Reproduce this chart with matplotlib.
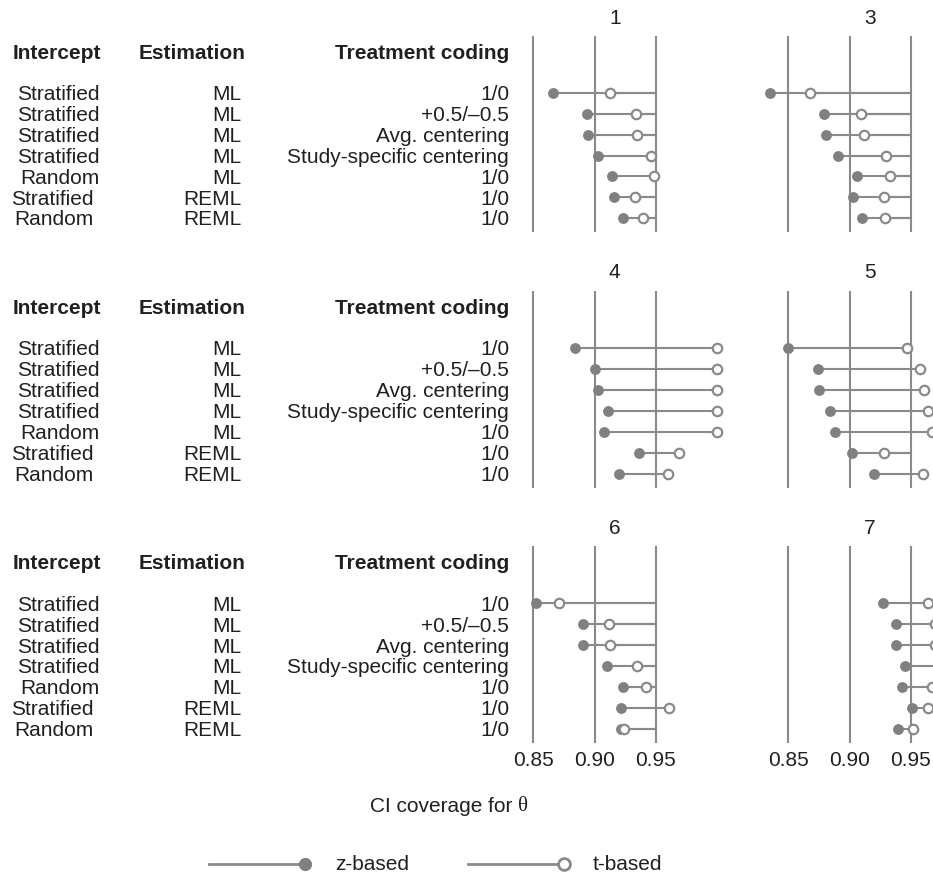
# Dot-and-line chart of CI coverage (z-based vs t-based) for several model variants.
import numpy as np
import matplotlib
matplotlib.use('Agg')
import matplotlib.pyplot as plt
from matplotlib.lines import Line2D

# DATA.

# Model variants (one row each, same in every panel).
intercept = ['Stratified', 'Stratified', 'Stratified', 'Stratified', 'Random', 'Stratified', 'Random']
estimation = ['ML', 'ML', 'ML', 'ML', 'ML', 'REML', 'REML']
coding = ['1/0', '+0.5/\u20130.5', 'Avg. centering', 'Study-specific centering', '1/0', '1/0', '1/0']

# Panel (scenario) labels, two per row of the figure.
panel_labels = ['1', '3', '4', '5', '6', '7']

# CI coverage for theta, z-based intervals.
z_cov = {
    '1': [0.866, 0.894, 0.895, 0.903, 0.914, 0.916, 0.923],
    '3': [0.835, 0.879, 0.881, 0.891, 0.906, 0.903, 0.910],
    '4': [0.884, 0.900, 0.903, 0.911, 0.908, 0.936, 0.920],
    '5': [0.850, 0.874, 0.875, 0.884, 0.888, 0.902, 0.920],
    '6': [0.852, 0.891, 0.891, 0.910, 0.923, 0.922, 0.922],
    '7': [0.927, 0.938, 0.938, 0.945, 0.943, 0.951, 0.940],
}

# CI coverage for theta, t-based intervals.
t_cov = {
    '1': [0.913, 0.934, 0.935, 0.946, 0.949, 0.933, 0.940],
    '3': [0.868, 0.909, 0.912, 0.930, 0.933, 0.928, 0.929],
    '4': [1.000, 1.000, 1.000, 1.000, 1.000, 0.969, 0.960],
    '5': [0.947, 0.958, 0.961, 0.964, 0.967, 0.928, 0.960],
    '6': [0.871, 0.912, 0.913, 0.935, 0.942, 0.961, 0.924],
    '7': [0.964, 0.970, 0.970, 0.976, 0.967, 0.964, 0.952],
}

nominal = 0.95
x_ticks = [0.85, 0.90, 0.95]

# STYLE.

plt.rcParams['font.family'] = ['Liberation Sans', 'DejaVu Sans']
text_color = '#231f20'
grey = '#8a8a8e'
dot_grey = '#808084'
fs = 15

W, H = 933, 877
fig = plt.figure(figsize = (W / 100, H / 100), dpi = 100)

# Panel geometry in pixels (top, bottom) for each of the three rows.
row_px = [(36, 232), (290.7, 488), (546, 743)]
col_left_px = [512.5, 767.5]
panel_w_px = 204.4
ylims = (6.67, -2.74)
xlims = (0.833, 1.0)

rows = np.arange(len(intercept))

for r, (top, bot) in enumerate(row_px):
    ax_bottom = 1 - bot / H
    ax_height = (bot - top) / H

    # Text table to the left, sharing the row scale of the panels.
    tax = fig.add_axes([0, ax_bottom, 1, ax_height])
    tax.set_xlim(0, W)
    tax.set_ylim(*ylims)
    tax.axis('off')

    tax.text(13, -1.63, 'Intercept', fontsize = fs, fontweight = 'bold',
             color = text_color, ha = 'left', va = 'baseline')
    tax.text(139, -1.63, 'Estimation', fontsize = fs, fontweight = 'bold',
             color = text_color, ha = 'left', va = 'baseline')
    tax.text(509, -1.63, 'Treatment coding', fontsize = fs, fontweight = 'bold',
             color = text_color, ha = 'right', va = 'baseline')

    for i in rows:
        # REML rows sit a little further left in the intercept column.
        x_int = 93.3 if estimation[i] == 'REML' else 99.3
        tax.text(x_int, i + 0.35, intercept[i], fontsize = fs, color = text_color,
                 ha = 'right', va = 'baseline')
        tax.text(241.3, i + 0.35, estimation[i], fontsize = fs, color = text_color,
                 ha = 'right', va = 'baseline')
        tax.text(509, i + 0.35, coding[i], fontsize = fs, color = text_color,
                 ha = 'right', va = 'baseline')

    # The two panels of this row.
    for c in range(2):
        label = panel_labels[2 * r + c]
        ax = fig.add_axes([col_left_px[c] / W, ax_bottom, panel_w_px / W, ax_height])
        ax.set_xlim(*xlims)
        ax.set_ylim(*ylims)
        for s in ax.spines.values():
            s.set_visible(False)
        ax.set_yticks([])
        ax.set_facecolor('none')

        for xv in x_ticks:
            ax.axvline(xv, color = grey, lw = 1.5, zorder = 1)

        # Lollipops from the nominal level to each coverage value.
        z = z_cov[label]
        t = t_cov[label]
        ax.hlines(rows, nominal, z, color = grey, lw = 1.5, zorder = 2)
        ax.hlines(rows, nominal, t, color = grey, lw = 1.5, zorder = 2)
        ax.plot(z, rows, 'o', color = dot_grey, markersize = 7.8, markeredgewidth = 0,
                zorder = 3, clip_on = False)
        ax.plot(t, rows, 'o', markerfacecolor = 'white', markeredgecolor = grey,
                markersize = 6.8, markeredgewidth = 1.6, zorder = 4, clip_on = False)

        # Panel title.
        ax.text(sum(xlims) / 2, -3.33, label, fontsize = fs, color = text_color,
                ha = 'center', va = 'baseline', clip_on = False)

        ax.set_xticks(x_ticks)
        ax.tick_params(axis = 'x', length = 0, pad = 5.5, labelsize = fs,
                       labelcolor = text_color)
        if r < len(row_px) - 1:
            ax.set_xticklabels([])
        else:
            ax.set_xticklabels(['%.2f' % v for v in x_ticks])

# Overlay axes in pixel units for the axis title and the legend.
oax = fig.add_axes([0, 0, 1, 1])
oax.set_xlim(0, W)
oax.set_ylim(H, 0)
oax.axis('off')

lbl = oax.text(444, 812, 'CI coverage for ', fontsize = fs, color = text_color,
               ha = 'center', va = 'baseline')
oax.annotate('\u03b8', xy = (1, 0), xycoords = lbl, fontsize = fs, color = text_color,
             family = 'Liberation Serif', ha = 'left', va = 'bottom')

# Legend.
oax.add_line(Line2D([209, 305], [864, 864], color = grey, lw = 2))
oax.plot([305], [864], 'o', color = dot_grey, markersize = 9.5, markeredgewidth = 0)
oax.text(335, 864, 'z-based', fontsize = fs, color = text_color, ha = 'left', va = 'center')
oax.add_line(Line2D([468, 564], [864, 864], color = grey, lw = 2))
oax.plot([564], [864], 'o', markerfacecolor = 'white', markeredgecolor = grey,
         markersize = 8.5, markeredgewidth = 2)
oax.text(593, 864, 't-based', fontsize = fs, color = text_color, ha = 'left', va = 'center')

plt.savefig('out.png', dpi = 100)
